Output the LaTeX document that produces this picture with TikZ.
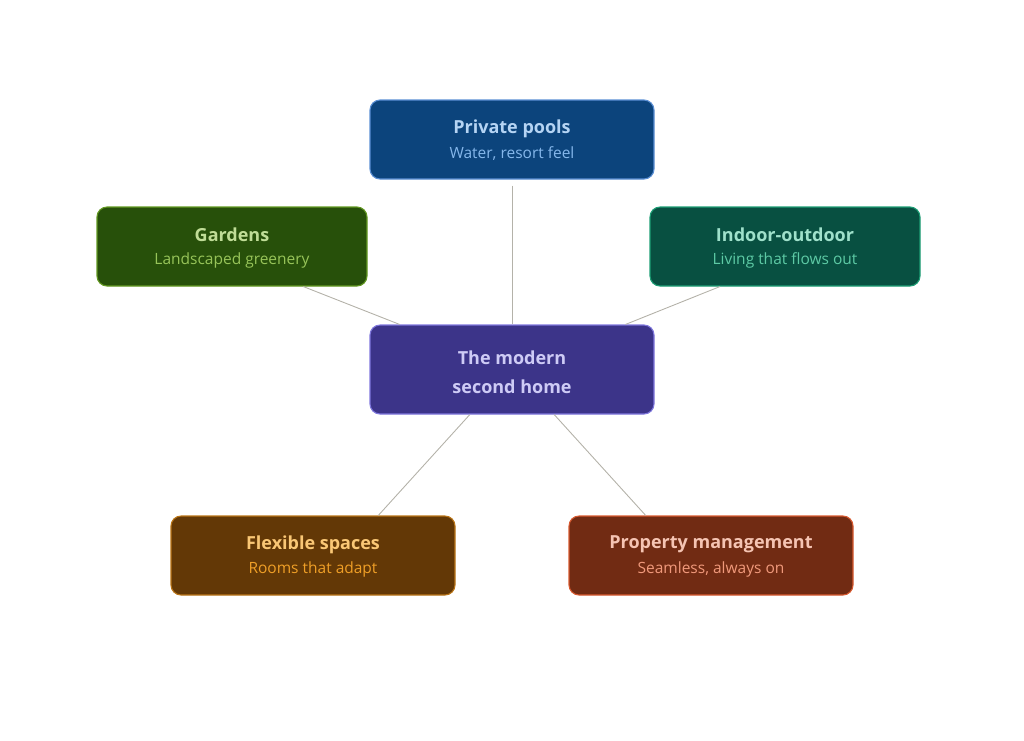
\documentclass[tikz,border=0pt]{standalone}
\usepackage{fontspec}
\setmainfont{Open Sans}
\usetikzlibrary{calc}
\definecolor{blueF}{HTML}{0C447C}\definecolor{blueD}{HTML}{5B8FD4}\definecolor{blueT}{HTML}{B5D4F4}\definecolor{blueS}{HTML}{85B7EB}
\definecolor{grnF}{HTML}{27500A}\definecolor{grnD}{HTML}{639922}\definecolor{grnT}{HTML}{C0DD97}\definecolor{grnS}{HTML}{97C459}
\definecolor{tealF}{HTML}{085041}\definecolor{tealD}{HTML}{1D9E75}\definecolor{tealT}{HTML}{9FE1CB}\definecolor{tealS}{HTML}{5DCAA5}
\definecolor{purF}{HTML}{3C3489}\definecolor{purD}{HTML}{7F77DD}\definecolor{purT}{HTML}{CECBF6}
\definecolor{ambF}{HTML}{633806}\definecolor{ambD}{HTML}{BA7517}\definecolor{ambT}{HTML}{FAC775}\definecolor{ambS}{HTML}{EF9F27}
\definecolor{corF}{HTML}{712B13}\definecolor{corD}{HTML}{D85A30}\definecolor{corT}{HTML}{F5C4B3}\definecolor{corS}{HTML}{F0997B}
\definecolor{edge}{HTML}{B4B2A9}
\tikzset{
  box/.style={rounded corners=10pt, line width=1.1pt, minimum width=284pt, minimum height=79pt, inner sep=0pt},
  wide/.style={minimum width=270pt},
  ttl/.style={font=\fontsize{18}{22}\selectfont\bfseries},
  sub/.style={font=\fontsize{15.5}{19}\selectfont},
  link/.style={draw=edge, line width=0.9pt},
}
\begin{document}
\begin{tikzpicture}[x=1pt,y=-1pt]
\useasboundingbox (0,0) rectangle (1024,740);
% boxes
\node[box, fill=blueF, draw=blueD] (pools) at (512,139.5) {};
\node[box, wide, fill=grnF, draw=grnD] (gardens) at (232,246.5) {};
\node[box, wide, fill=tealF, draw=tealD] (indoor) at (785,246.5) {};
\node[box, minimum height=89pt, fill=purF, draw=purD] (home) at (512,369.5) {};
\node[box, fill=ambF, draw=ambD] (flex) at (313,555.5) {};
\node[box, fill=corF, draw=corD] (prop) at (711,555.5) {};
% connectors
\coordinate (poolsEnd) at ($(pools.south)+(0,6)$);
\draw[link] (poolsEnd) -- (home.north);
\draw[link] ($(gardens.south west)!0.763!(gardens.south east)$) -- ($(home.north west)!0.106!(home.north east)$);
\draw[link] ($(indoor.south west)!0.26!(indoor.south east)$) -- ($(home.north west)!0.898!(home.north east)$);
\draw[link] ($(home.south west)!0.352!(home.south east)$) -- ($(flex.north west)!0.729!(flex.north east)$);
\draw[link] ($(home.south west)!0.648!(home.south east)$) -- ($(prop.north west)!0.271!(prop.north east)$);
% texts
\node[ttl, text=blueT] (poolsT) at ($(pools.center)+(0,-11)$) {Private pools};
\node[sub, text=blueS] (poolsS) at ($(pools.center)+(0,14)$) {Water, resort feel};
\node[ttl, text=grnT] (gardensT) at ($(gardens.center)+(0,-12)$) {Gardens};
\node[sub, text=grnS] (gardensS) at ($(gardens.center)+(0,13.5)$) {Landscaped greenery};
\node[ttl, text=tealT] (indoorT) at ($(indoor.center)+(0,-12)$) {Indoor-outdoor};
\node[sub, text=tealS] (indoorS) at ($(indoor.center)+(0,13.5)$) {Living that flows out};
\node[ttl, text=purT] (homeT1) at ($(home.center)+(0,-11.5)$) {The modern};
\node[ttl, text=purT] (homeT2) at ($(home.center)+(0,17)$) {second home};
\node[ttl, text=ambT] (flexT) at ($(flex.center)+(0,-11)$) {Flexible spaces};
\node[sub, text=ambS] (flexS) at ($(flex.center)+(0,14)$) {Rooms that adapt};
\node[ttl, text=corT] (propT) at ($(prop.center)+(0,-11)$) {Property management};
\node[sub, text=corS] (propS) at ($(prop.center)+(0,14)$) {Seamless, always on};
\end{tikzpicture}
\end{document}
